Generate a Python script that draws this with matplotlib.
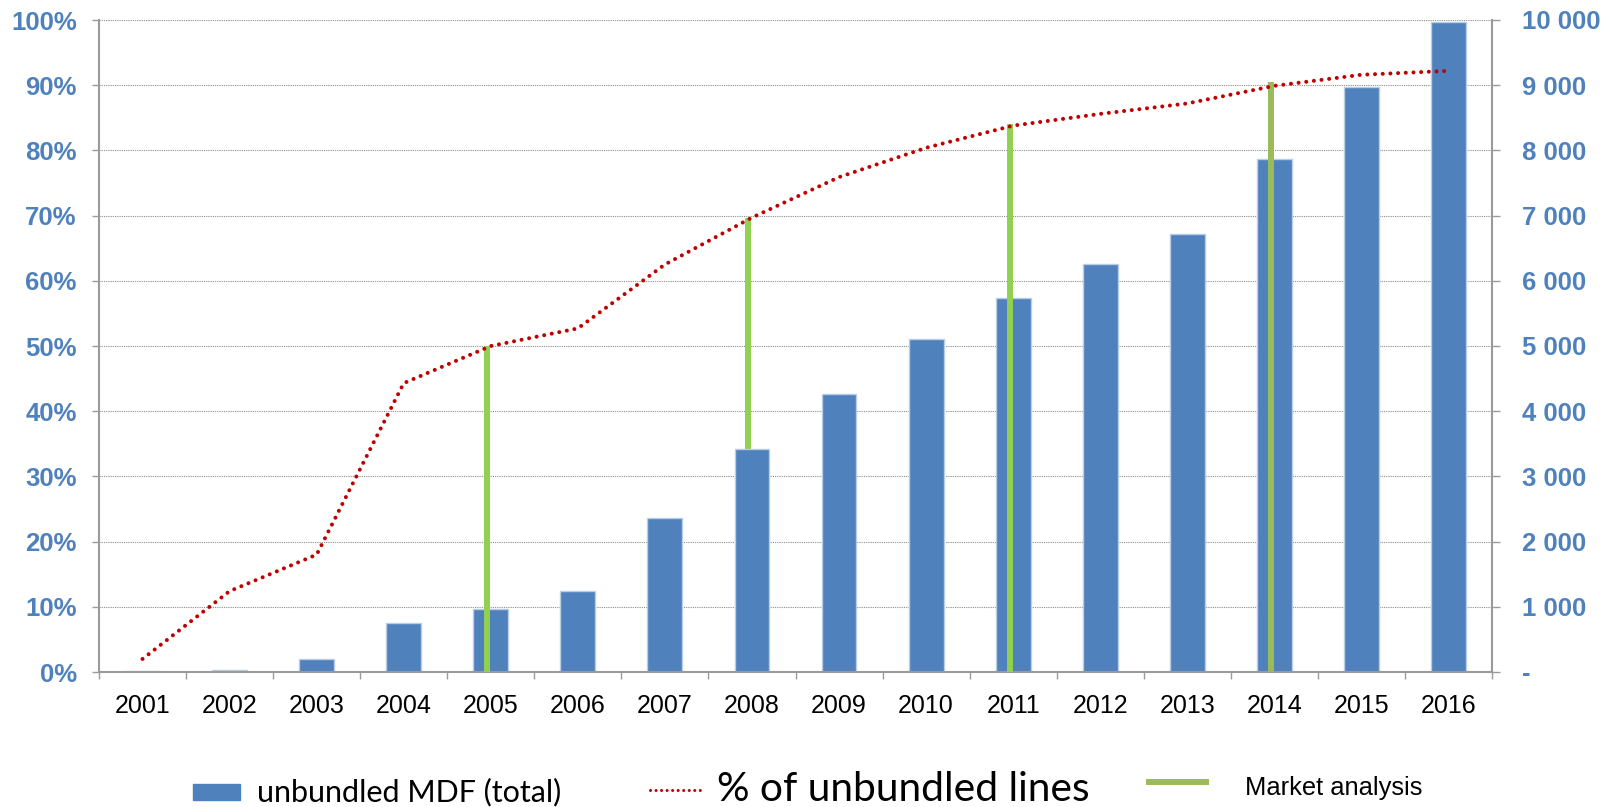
import numpy as np
import matplotlib.pyplot as plt
from matplotlib.lines import Line2D
from matplotlib.patches import Rectangle

years = [str(y) for y in range(2001, 2017)]
mdf_total = [15, 25, 200, 750, 970, 1240, 2360, 3420, 4270, 5110, 5740, 6260, 6720, 7870, 8980, 9970]
pct_unbundled = [2.0, 12.4, 18.0, 44.3, 50.0, 52.7, 62.5, 69.7, 75.9, 80.4, 83.8, 85.6, 87.2, 89.9, 91.6, 92.2]
market_years = ['2005', '2008', '2011', '2014']
market_pct = [50.0, 69.7, 84.0, 90.5]

pct_ticks = list(range(0, 101, 10))
pct_labels = [f'{v}%' for v in pct_ticks]
mdf_ticks = list(range(0, 10001, 1000))
mdf_labels = ['-'] + [f'{v:,}'.replace(',', ' ') for v in mdf_ticks[1:]]

blue = '#4F81BD'
red = '#C00000'
green_cols = ['#92D050', '#92D050', '#92D050', '#9BBB59']
green_behind = [False, True, False, False]
spine_col = '#9a9a9a'

W, H = 1612, 807
fig = plt.figure(figsize=(W / 100, H / 100), dpi=100)
ax = fig.add_axes([99 / W, 1 - 672 / H, (1492 - 99) / W, (672 - 20) / H])
x = np.arange(len(years))

# percentage scale on the left (twin), counts on the right
ax2 = ax.twinx()
ax2.yaxis.set_ticks_position('left')
ax2.yaxis.set_label_position('left')
ax.yaxis.set_ticks_position('right')
ax.yaxis.set_label_position('right')

# bars on the right-hand (count) scale
ax.bar(x, mdf_total, width=0.4, color=blue, edgecolor='#B9CDE5', linewidth=1, zorder=2)
ax.set_xlim(-0.5, len(years) - 0.5)
ax.set_ylim(0, 10000)
ax.set_yticks(mdf_ticks, mdf_labels, fontsize=18.5, fontweight='bold', color=blue,
              family='Liberation Sans')
ax.tick_params(axis='y', direction='out', length=5.5, width=1, color=spine_col, pad=16,
               left=False, labelleft=False, right=True, labelright=True)
ax.grid(axis='y', color='#8c8c8c', lw=0.8, ls=(0, (1, 1)))
ax.set_axisbelow(True)

ax.set_xticks(x, years, fontsize=18, family='Liberation Sans')
ax.set_xticks(np.arange(-0.5, len(years)), minor=True)
ax.tick_params(axis='x', which='major', length=0, pad=16)
ax.tick_params(axis='x', which='minor', direction='out', length=5, width=1, color=spine_col)

ax.spines['top'].set_visible(False)
for s in ['left', 'right', 'bottom']:
    ax.spines[s].set_color(spine_col)
    ax.spines[s].set_linewidth(1.5)

ax2.set_ylim(0, 100)
ax2.set_yticks(pct_ticks, pct_labels, fontsize=18.5, fontweight='bold', color=blue,
               family='Liberation Sans')
ax2.tick_params(axis='y', direction='out', length=5, width=1, color=spine_col, pad=11,
                left=True, labelleft=True, right=False, labelright=False)
for s in ax2.spines.values():
    s.set_visible(False)

for yr, v, c, behind in zip(market_years, market_pct, green_cols, green_behind):
    xi = years.index(yr) - 0.04
    if behind:
        ax.plot([xi, xi], [0, v], color=c, lw=4.3, solid_capstyle='butt',
                transform=ax2.transData, zorder=1.5)
    else:
        ax2.plot([xi, xi], [0, v], color=c, lw=4.3, solid_capstyle='butt', zorder=2)

ax2.plot(x, pct_unbundled, color=red, lw=2.9, ls=(0, (0.01, 1.9)),
         dash_capstyle='round', zorder=3)

# legend drawn by hand (the three entries use different font sizes)
fig.add_artist(Rectangle((193 / W, 1 - 800 / H), 47 / W, 16 / H,
                         transform=fig.transFigure, color=blue))
fig.text(257 / W, 1 - 801 / H, 'unbundled MDF (total)', fontsize=22,
         family='Lato', va='baseline')
fig.add_artist(Line2D([650 / W, 702 / W], [1 - 790 / H, 1 - 790 / H],
                      transform=fig.transFigure, color=red, lw=2.2,
                      ls=(0, (0.01, 1.8)), dash_capstyle='round'))
fig.text(717 / W, 1 - 801 / H, '% of unbundled lines', fontsize=29.3,
         family='Lato', va='baseline')
fig.add_artist(Line2D([1149 / W, 1206 / W], [1 - 782 / H, 1 - 782 / H],
                      transform=fig.transFigure, color='#9BBB59', lw=4.3))
fig.text(1245 / W, 1 - 795 / H, 'Market analysis', fontsize=18.4,
         family='Liberation Sans', va='baseline')

fig.savefig('out.png', dpi=100)
